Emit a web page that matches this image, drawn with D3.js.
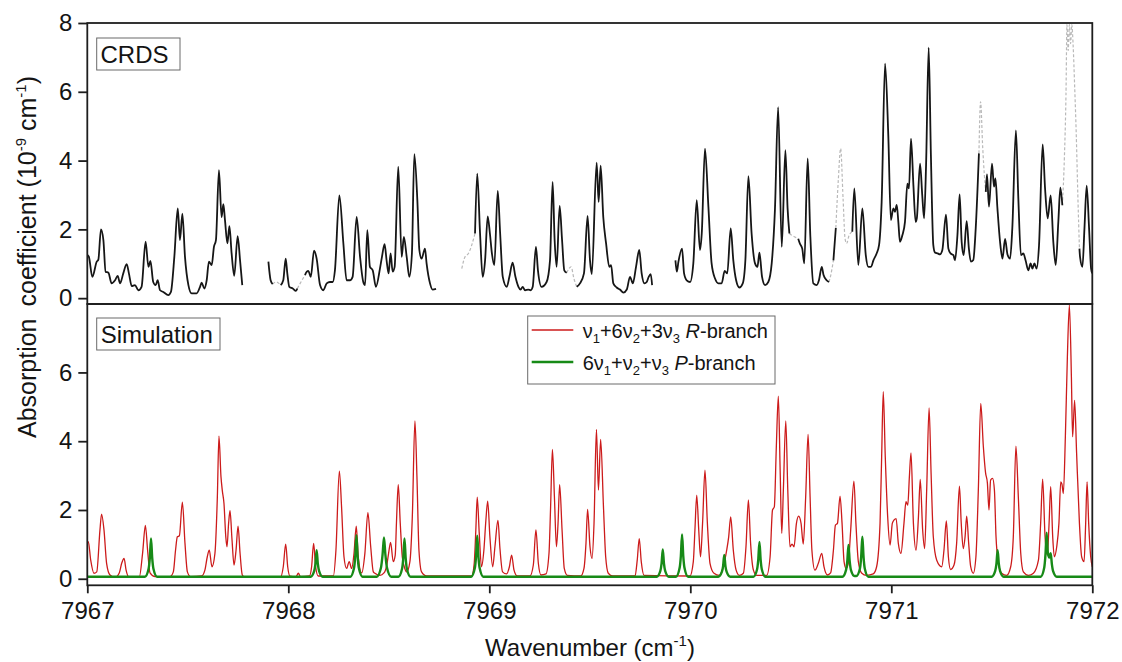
<!DOCTYPE html>
<html>
<head>
<meta charset="utf-8">
<script src="https://cdn.jsdelivr.net/npm/d3@7"></script>
<style>
  body { margin: 0; background: #fff; }
  svg { display: block; font-family: Arial, "Liberation Sans", sans-serif; }
</style>
</head>
<body>
<svg id="chart" width="1122" height="662"></svg>
<script>
// ---- Data: wavenumber (cm-1), absorption coefficient (1e-9 cm-1) ----

// Measured CRDS spectrum; null separates recorded stretches.
const crdsMeasured = [
  [7967.002,1.25],[7967.008,1.20],[7967.025,0.62],[7967.047,1.06],[7967.055,1.12],[7967.068,2.00],[7967.080,1.69],[7967.091,0.77],[7967.105,0.74],[7967.121,0.43],[7967.138,0.52],[7967.151,0.65],[7967.163,0.43],[7967.179,0.72],[7967.196,0.99],[7967.207,0.72],[7967.221,0.35],[7967.237,0.38],[7967.254,0.23],[7967.270,0.33],[7967.290,1.64],[7967.304,0.91],[7967.314,1.08],[7967.328,0.47],[7967.340,0.38],[7967.350,0.52],[7967.362,0.23],[7967.378,0.18],[7967.403,0.09],[7967.416,0.18],[7967.433,1.20],[7967.450,2.61],[7967.461,1.69],[7967.473,2.46],[7967.486,1.20],[7967.503,0.38],[7967.519,0.14],[7967.544,0.14],[7967.561,0.33],[7967.569,0.45],[7967.582,0.28],[7967.594,0.52],[7967.605,1.06],[7967.619,0.96],[7967.630,1.49],[7967.640,1.69],[7967.655,3.72],[7967.668,2.36],[7967.677,2.73],[7967.685,2.27],[7967.697,1.59],[7967.707,2.09],[7967.718,1.30],[7967.731,0.65],[7967.748,1.80],[7967.760,1.10],[7967.771,0.38],
  null,
  [7967.901,1.06],[7967.912,0.52],[7967.922,0.41],
  null,
  [7967.962,0.38],[7967.975,0.52],[7967.987,1.15],[7967.995,0.72],[7968.005,0.33],[7968.022,0.28],[7968.038,0.21],[7968.045,0.28],
  null,
  [7968.083,0.67],[7968.092,0.77],[7968.100,0.79],[7968.112,0.62],[7968.128,1.38],[7968.141,1.15],[7968.158,0.38],[7968.174,0.23],[7968.191,0.43],[7968.207,0.47],[7968.221,0.47],[7968.232,0.81],[7968.254,2.99],[7968.274,1.59],[7968.290,0.52],[7968.307,0.52],[7968.320,0.62],[7968.340,2.36],[7968.357,1.20],[7968.373,0.47],[7968.382,0.38],[7968.393,1.98],[7968.406,0.91],[7968.420,0.81],[7968.436,0.33],[7968.456,0.86],[7968.466,1.20],[7968.479,1.57],[7968.489,1.10],[7968.499,0.72],[7968.509,1.30],[7968.519,0.77],[7968.529,0.91],[7968.547,3.82],[7968.564,1.20],[7968.575,1.78],[7968.589,1.20],[7968.602,0.62],[7968.615,1.30],[7968.627,4.19],[7968.642,2.85],[7968.652,1.40],[7968.663,1.15],[7968.680,1.44],[7968.688,1.01],[7968.705,0.43],[7968.718,0.25],[7968.735,0.27],
  null,
  [7968.929,1.88],[7968.940,3.62],[7968.954,1.88],[7968.967,0.62],[7968.979,1.10],[7968.992,2.38],[7969.003,1.88],[7969.013,1.30],[7969.025,0.96],[7969.042,3.12],[7969.054,1.88],[7969.067,0.62],[7969.087,0.33],[7969.100,0.62],[7969.116,1.03],[7969.130,0.62],[7969.145,0.33],[7969.156,0.25],[7969.166,0.33],[7969.178,0.23],[7969.194,0.25],[7969.206,0.23],[7969.216,0.33],[7969.232,1.49],[7969.242,0.81],[7969.260,0.33],[7969.285,0.47],[7969.302,1.10],[7969.315,3.38],[7969.325,1.69],[7969.335,0.91],[7969.350,2.68],[7969.362,1.69],[7969.373,0.81],[7969.385,0.74],
  null,
  [7969.435,0.33],[7969.451,0.43],[7969.471,0.72],[7969.489,2.39],[7969.501,1.10],[7969.510,0.70],[7969.534,3.94],[7969.544,2.80],[7969.554,3.85],[7969.567,2.36],[7969.581,1.59],[7969.597,0.91],[7969.606,0.96],[7969.617,0.43],[7969.634,0.31],[7969.650,0.25],[7969.667,0.16],[7969.684,0.25],[7969.700,0.62],[7969.714,0.43],[7969.730,0.91],[7969.746,1.40],[7969.758,0.72],[7969.772,0.43],[7969.783,0.47],[7969.793,0.62],[7969.803,0.70],[7969.810,0.38],
  null,
  [7969.926,1.10],[7969.933,0.77],[7969.941,1.06],[7969.959,1.44],[7969.969,0.72],[7969.982,0.52],[7969.999,0.47],[7970.015,1.01],[7970.032,2.85],[7970.048,1.40],[7970.057,1.88],[7970.073,4.35],[7970.090,2.66],[7970.106,1.01],[7970.123,0.57],[7970.140,0.43],[7970.156,0.43],[7970.171,0.79],[7970.184,0.72],[7970.201,2.03],[7970.214,1.10],[7970.228,0.52],[7970.244,0.31],[7970.261,0.43],[7970.274,1.10],[7970.289,3.55],[7970.305,1.88],[7970.322,1.01],[7970.334,0.91],[7970.344,1.32],[7970.357,0.62],[7970.372,0.38],[7970.388,0.47],[7970.405,1.01],[7970.421,2.56],[7970.437,5.55],[7970.455,1.49],[7970.473,4.30],[7970.484,2.61],[7970.493,1.88],
  null,
  [7970.537,1.73],[7970.545,1.59],[7970.557,1.44],[7970.567,1.01],[7970.584,4.06],[7970.597,1.83],[7970.612,0.43],[7970.629,0.38],[7970.640,0.52],[7970.654,0.91],[7970.663,0.67],[7970.678,0.52],[7970.690,0.47],
  null,
  [7970.712,1.10],[7970.724,2.04],
  null,
  [7970.806,1.93],[7970.816,3.19],[7970.836,0.96],[7970.856,2.61],[7970.873,1.25],[7970.886,0.91],[7970.899,0.91],[7970.911,1.10],[7970.927,1.30],[7970.939,1.54],[7970.952,2.80],[7970.969,6.82],[7970.985,4.74],[7970.998,2.27],[7971.010,2.61],[7971.018,2.51],[7971.027,2.71],[7971.035,2.22],[7971.043,1.64],[7971.055,1.83],[7971.068,2.22],[7971.080,3.33],[7971.088,3.19],[7971.098,4.64],[7971.110,3.28],[7971.121,2.22],[7971.127,2.32],[7971.143,3.91],[7971.154,2.99],[7971.163,2.32],[7971.173,3.87],[7971.186,7.28],[7971.197,4.16],[7971.209,1.54],[7971.217,1.33],[7971.231,1.30],[7971.242,1.27],[7971.254,1.40],[7971.272,2.43],[7971.284,1.44],[7971.295,1.30],[7971.309,1.25],[7971.317,1.10],[7971.329,1.83],[7971.340,3.02],[7971.350,1.64],[7971.360,1.25],[7971.375,2.24],[7971.386,1.44],[7971.396,1.06],[7971.408,1.11],[7971.420,2.03],[7971.436,4.21],
  null,
  [7971.470,3.09],[7971.476,3.60],[7971.486,2.66],[7971.501,3.91],[7971.511,3.24],[7971.518,3.48],[7971.528,2.61],[7971.541,1.64],[7971.553,1.15],[7971.566,1.72],[7971.578,1.27],[7971.591,1.15],[7971.602,2.03],[7971.620,4.88],[7971.632,2.90],[7971.645,1.25],[7971.657,1.30],[7971.668,1.10],[7971.682,0.81],[7971.693,1.01],[7971.702,0.86],[7971.712,1.01],[7971.723,0.86],[7971.735,1.54],[7971.753,4.47],[7971.765,3.19],[7971.778,2.32],[7971.793,2.99],[7971.806,1.64],[7971.818,0.96],[7971.831,2.22],[7971.841,3.21],[7971.851,2.70],
  null,
  [7971.936,1.44],[7971.939,1.20],[7971.951,0.91],[7971.961,2.03],[7971.972,3.27],[7971.984,2.03],[7971.994,0.86],[7972.000,0.72]
];

// Masked CRDS points (cell/laser artefacts), drawn light and dashed.
const crdsMasked = [
  [7967.922,0.41],[7967.940,0.47],[7967.962,0.38],
  null,
  [7968.045,0.28],[7968.063,0.47],[7968.083,0.67],
  null,
  [7968.863,0.86],[7968.879,1.20],[7968.896,1.30],[7968.929,1.88],
  null,
  [7969.385,0.74],[7969.407,0.91],[7969.421,0.57],[7969.435,0.33],
  null,
  [7970.493,1.88],[7970.504,1.83],[7970.520,1.78],[7970.537,1.73],
  null,
  [7970.690,0.47],[7970.700,0.70],[7970.712,1.10],
  null,
  [7970.724,2.04],[7970.736,3.40],[7970.748,4.35],[7970.760,2.90],[7970.770,1.73],[7970.778,1.59],[7970.790,1.83],[7970.806,1.93],
  null,
  [7971.436,4.21],[7971.444,5.71],[7971.455,4.35],[7971.463,3.58],[7971.470,3.09],
  null,
  [7971.851,2.70],[7971.861,4.06],[7971.869,5.90],[7971.874,7.95],[7971.880,7.20],[7971.886,7.95],[7971.892,7.40],[7971.898,7.95],[7971.905,7.30],[7971.912,6.20],[7971.920,4.80],[7971.928,3.00],[7971.936,1.44]
];

// Simulated nu1+6nu2+3nu3 R-branch.
const simRBranch = [
  [7967.000,1.05],[7967.005,1.08],[7967.017,0.54],[7967.033,0.16],[7967.047,0.20],[7967.063,1.42],[7967.071,1.88],[7967.083,1.42],[7967.096,0.45],[7967.113,0.11],[7967.138,0.04],[7967.159,0.17],[7967.171,0.45],[7967.183,0.59],[7967.193,0.25],[7967.206,0.06],[7967.259,0.06],[7967.275,0.74],[7967.289,1.55],[7967.300,0.83],[7967.312,0.17],[7967.337,0.06],[7967.411,0.06],[7967.428,0.20],[7967.439,0.83],[7967.448,1.22],[7967.458,1.25],[7967.473,2.23],[7967.486,1.03],[7967.498,0.20],[7967.514,0.06],[7967.569,0.08],[7967.585,0.25],[7967.597,0.64],[7967.607,0.83],[7967.620,0.35],[7967.635,0.74],[7967.647,2.38],[7967.655,4.15],[7967.665,2.97],[7967.672,2.55],[7967.680,2.19],[7967.689,1.22],[7967.695,0.93],[7967.703,1.61],[7967.710,1.98],[7967.720,1.13],[7967.730,0.40],[7967.740,0.83],[7967.750,1.53],[7967.760,0.74],[7967.771,0.11],[7967.785,0.04],
  [7967.962,0.06],[7967.975,0.35],[7967.987,1.01],[7967.997,0.35],[7968.008,0.08],[7968.038,0.06],[7968.050,0.16],[7968.061,0.06],[7968.105,0.08],[7968.116,0.35],[7968.126,1.03],[7968.136,0.35],[7968.149,0.08],[7968.224,0.08],[7968.237,0.83],[7968.254,3.13],[7968.265,2.09],[7968.277,0.64],[7968.290,0.30],[7968.303,0.50],[7968.315,0.30],[7968.327,0.74],[7968.338,1.53],[7968.348,0.64],[7968.365,0.17],[7968.381,0.74],[7968.396,1.92],[7968.410,0.93],[7968.423,0.20],[7968.431,0.16],[7968.456,0.10],[7968.476,0.17],[7968.490,0.40],[7968.499,0.74],[7968.509,1.06],[7968.522,0.50],[7968.532,0.69],[7968.538,1.61],[7968.547,2.74],[7968.557,1.61],[7968.567,0.64],[7968.577,0.35],[7968.589,0.20],[7968.605,0.50],[7968.617,1.80],[7968.630,4.59],[7968.640,2.97],[7968.650,0.83],[7968.663,0.20],[7968.688,0.08],
  [7968.912,0.08],[7968.925,0.45],[7968.933,1.42],[7968.940,2.37],[7968.950,1.32],[7968.961,0.35],[7968.973,0.83],[7968.983,1.70],[7968.992,2.26],[7969.003,1.22],[7969.017,0.35],[7969.028,0.93],[7969.043,1.70],[7969.053,0.88],[7969.066,0.20],[7969.086,0.14],[7969.100,0.35],[7969.111,0.69],[7969.123,0.25],[7969.139,0.08],[7969.202,0.08],[7969.219,0.40],[7969.232,1.42],[7969.244,0.45],[7969.257,0.11],[7969.282,0.14],[7969.297,0.74],[7969.305,2.09],[7969.314,3.76],[7969.324,2.38],[7969.334,0.93],[7969.342,1.61],[7969.350,2.74],[7969.362,1.42],[7969.373,0.30],[7969.388,0.10],[7969.455,0.08],[7969.471,0.30],[7969.481,1.03],[7969.489,2.02],[7969.501,0.93],[7969.511,0.59],[7969.521,1.61],[7969.533,4.34],[7969.543,2.58],[7969.554,4.05],[7969.568,2.09],[7969.579,0.64],[7969.592,0.16],[7969.614,0.08],[7969.725,0.08],[7969.736,0.54],[7969.746,1.17],[7969.756,0.50],[7969.770,0.10],
  [7969.998,0.08],[7970.015,0.50],[7970.023,1.42],[7970.032,2.43],[7970.042,1.42],[7970.051,0.64],[7970.061,1.61],[7970.073,3.16],[7970.085,1.61],[7970.098,0.45],[7970.118,0.16],[7970.145,0.10],[7970.164,0.35],[7970.181,0.83],[7970.191,1.22],[7970.201,1.80],[7970.214,0.83],[7970.228,0.25],[7970.244,0.10],[7970.264,0.16],[7970.277,0.93],[7970.289,2.29],[7970.300,1.03],[7970.314,0.25],[7970.330,0.10],[7970.380,0.10],[7970.397,0.64],[7970.409,2.00],[7970.418,2.09],[7970.428,3.84],[7970.438,5.31],[7970.447,3.16],[7970.455,1.32],[7970.463,2.58],[7970.475,4.59],[7970.485,2.58],[7970.496,0.93],[7970.506,1.01],[7970.516,0.93],[7970.528,1.61],[7970.539,1.82],[7970.551,1.61],[7970.562,1.01],[7970.574,2.38],[7970.586,4.20],[7970.596,2.38],[7970.605,0.83],[7970.620,0.25],[7970.637,0.45],[7970.654,0.74],[7970.665,0.35],[7970.682,0.11],[7970.698,0.17],[7970.712,0.83],[7970.722,1.56],[7970.732,1.61],[7970.745,2.40],[7970.755,1.61],[7970.765,0.50],[7970.775,0.30],[7970.786,0.45],[7970.798,1.42],[7970.814,2.84],[7970.824,1.61],[7970.836,0.50],[7970.852,0.17],[7970.877,0.10],[7970.910,0.14],[7970.927,0.35],[7970.944,1.61],[7970.952,3.55],[7970.960,5.44],[7970.970,3.55],[7970.982,1.80],[7970.994,0.98],
  [7971.005,1.61],[7971.014,1.71],[7971.024,1.75],[7971.035,1.03],[7971.048,0.74],[7971.063,1.61],[7971.073,2.24],[7971.082,2.14],[7971.090,2.97],[7971.098,3.66],[7971.110,1.61],[7971.123,0.83],[7971.135,1.80],[7971.144,2.89],[7971.156,1.42],[7971.166,0.88],[7971.176,2.58],[7971.188,4.97],[7971.198,3.06],[7971.209,1.22],[7971.226,0.54],[7971.251,0.35],[7971.262,0.83],[7971.274,1.68],[7971.284,0.64],[7971.295,0.27],[7971.312,0.40],[7971.325,1.03],[7971.339,2.69],[7971.348,1.61],[7971.358,0.88],[7971.367,1.22],[7971.375,1.82],[7971.385,1.03],[7971.395,0.35],[7971.408,0.16],[7971.421,0.64],[7971.433,2.58],[7971.445,5.10],[7971.458,3.84],[7971.469,3.08],[7971.478,2.79],[7971.486,2.00],[7971.494,2.87],[7971.504,2.92],[7971.513,2.58],[7971.521,1.22],[7971.533,0.45],[7971.549,0.16],[7971.574,0.10],[7971.594,0.35],[7971.607,1.22],[7971.620,3.86],[7971.632,2.38],[7971.644,0.74],[7971.657,0.20],[7971.682,0.10],[7971.707,0.16],[7971.732,0.54],[7971.743,1.61],[7971.753,2.90],[7971.765,1.22],[7971.776,0.69],[7971.785,1.61],[7971.793,2.68],[7971.803,1.22],[7971.811,0.64],[7971.823,0.93],[7971.834,1.61],[7971.843,2.82],[7971.849,2.75],[7971.856,2.48],[7971.866,4.13],[7971.876,6.45],[7971.886,7.96],[7971.896,5.87],[7971.902,4.13],[7971.912,5.19],[7971.922,3.64],[7971.936,1.61],[7971.947,0.64],[7971.959,0.50],[7971.967,1.61],[7971.974,2.82],[7971.982,1.61],[7971.992,0.64],[7972.000,0.35]
];

// Simulated 6nu1+nu2+nu3 P-branch.
const simPBranch = [
  [7967.000,0.06],
  [7967.287,0.06],[7967.305,0.29],[7967.311,0.60],[7967.317,1.17],[7967.323,0.60],[7967.329,0.29],[7967.347,0.06],
  [7968.111,0.06],[7968.129,0.23],[7968.135,0.43],[7968.141,0.83],[7968.147,0.43],[7968.153,0.23],[7968.171,0.06],
  [7968.309,0.06],[7968.327,0.31],[7968.333,0.65],[7968.339,1.27],[7968.345,0.65],[7968.351,0.31],[7968.369,0.06],
  [7968.440,0.06],[7968.461,0.32],[7968.469,0.70],[7968.476,1.20],[7968.483,0.70],[7968.491,0.32],[7968.512,0.06],
  [7968.548,0.06],[7968.566,0.29],[7968.572,0.60],[7968.578,1.17],[7968.584,0.60],[7968.590,0.29],[7968.608,0.06],
  [7968.910,0.06],[7968.928,0.31],[7968.934,0.64],[7968.940,1.25],[7968.946,0.64],[7968.952,0.31],[7968.970,0.06],
  [7969.833,0.06],[7969.851,0.23],[7969.857,0.44],[7969.863,0.85],[7969.869,0.44],[7969.875,0.23],[7969.893,0.06],
  [7969.929,0.06],[7969.947,0.32],[7969.953,0.66],[7969.959,1.29],[7969.965,0.66],[7969.971,0.32],[7969.989,0.06],
  [7970.139,0.06],[7970.157,0.20],[7970.163,0.36],[7970.169,0.69],[7970.175,0.36],[7970.181,0.20],[7970.199,0.06],
  [7970.314,0.06],[7970.332,0.27],[7970.338,0.55],[7970.344,1.07],[7970.350,0.55],[7970.356,0.27],[7970.374,0.06],
  [7970.757,0.06],[7970.775,0.26],[7970.781,0.51],[7970.787,0.98],[7970.793,0.51],[7970.799,0.26],[7970.817,0.08],
  [7970.826,0.08],[7970.844,0.30],[7970.850,0.63],[7970.856,1.22],[7970.862,0.63],[7970.868,0.30],[7970.886,0.06],
  [7971.499,0.06],[7971.517,0.23],[7971.523,0.43],[7971.529,0.83],[7971.535,0.43],[7971.541,0.23],[7971.559,0.06],
  [7971.743,0.06],[7971.761,0.33],[7971.767,0.70],[7971.773,1.34],[7971.779,0.75],[7971.786,0.62],[7971.793,0.74],[7971.799,0.42],[7971.805,0.22],[7971.823,0.06],
  [7972.000,0.06]
];

// Axis ticks
const xTicks = [7967, 7968, 7969, 7970, 7971, 7972];
const yTicksTop = [0, 2, 4, 6, 8];
const yTicksBottom = [0, 2, 4, 6];

// Legend entries
const legendItems = [
  { parts: [["ν",""],["1","sub"],["+6ν",""],["2","sub"],["+3ν",""],["3","sub"],[" ",""],["R","it"],["-branch",""]], color: "#cc1b1b", width: 1.3 },
  { parts: [["6ν",""],["1","sub"],["+ν",""],["2","sub"],["+ν",""],["3","sub"],[" ",""],["P","it"],["-branch",""]], color: "#178a17", width: 2.4 }
];

// ---- Layout ----
const svg = d3.select("#chart");
const left = 87.3, right = 1092.3;
const topY0 = 23, midY = 304, botY1 = 585.3;

const x = d3.scaleLinear().domain([7967, 7972]).range([left, right]);
const yTop = d3.scaleLinear().domain([-0.17, 8]).range([midY, topY0]);
const yBot = d3.scaleLinear().domain([-0.19, 7.99]).range([botY1, midY]);

svg.append("rect").attr("width", 1122).attr("height", 662).attr("fill", "#fff");

const defs = svg.append("defs");
defs.append("clipPath").attr("id", "clipTop").append("rect")
  .attr("x", left).attr("y", topY0).attr("width", right - left).attr("height", midY - topY0);
defs.append("clipPath").attr("id", "clipBot").append("rect")
  .attr("x", left).attr("y", midY).attr("width", right - left).attr("height", botY1 - midY);

const curve = d3.curveMonotoneX;
const lineTop = d3.line().defined(d => d !== null).x(d => x(d[0])).y(d => yTop(d[1])).curve(curve);
const lineBot = d3.line().x(d => x(d[0])).y(d => yBot(d[1])).curve(curve);

// Top panel: CRDS
const gTop = svg.append("g").attr("clip-path", "url(#clipTop)");
gTop.append("path").datum(crdsMasked).attr("d", lineTop)
  .attr("fill", "none").attr("stroke", "#b9b9b9").attr("stroke-width", 1.2)
  .attr("stroke-dasharray", "3,2");
gTop.append("path").datum(crdsMeasured).attr("d", lineTop)
  .attr("fill", "none").attr("stroke", "#161616").attr("stroke-width", 1.8)
  .attr("stroke-linejoin", "round");

// Bottom panel: simulation
const gBot = svg.append("g").attr("clip-path", "url(#clipBot)");
gBot.append("path").datum(simRBranch).attr("d", lineBot)
  .attr("fill", "none").attr("stroke", legendItems[0].color).attr("stroke-width", legendItems[0].width)
  .attr("stroke-linejoin", "round");
gBot.append("path").datum(simPBranch).attr("d", lineBot)
  .attr("fill", "none").attr("stroke", legendItems[1].color).attr("stroke-width", legendItems[1].width)
  .attr("stroke-linejoin", "round");

// Frames
const frameColor = "#1e1e1e";
svg.append("rect").attr("x", left).attr("y", topY0).attr("width", right - left).attr("height", midY - topY0)
  .attr("fill", "none").attr("stroke", frameColor).attr("stroke-width", 1.8);
svg.append("rect").attr("x", left).attr("y", midY).attr("width", right - left).attr("height", botY1 - midY)
  .attr("fill", "none").attr("stroke", frameColor).attr("stroke-width", 1.8);

// Axes
function styleAxis(g) {
  g.select(".domain").remove();
  g.selectAll(".tick line").attr("stroke", frameColor).attr("stroke-width", 1.8);
  g.selectAll(".tick text").attr("fill", "#141414").attr("font-size", 24)
    .attr("font-family", "Arial, 'Liberation Sans', sans-serif");
}
svg.append("g").attr("transform", `translate(${left},0)`)
  .call(d3.axisLeft(yTop).tickValues(yTicksTop).tickFormat(d3.format("d")).tickSize(9).tickPadding(6))
  .call(styleAxis);
svg.append("g").attr("transform", `translate(${left},0)`)
  .call(d3.axisLeft(yBot).tickValues(yTicksBottom).tickFormat(d3.format("d")).tickSize(9).tickPadding(6))
  .call(styleAxis);
svg.append("g").attr("transform", `translate(0,${botY1})`)
  .call(d3.axisBottom(x).tickValues(xTicks).tickFormat(d3.format("d")).tickSize(8).tickPadding(9))
  .call(styleAxis);

// Panel tags
function tag(label, x0, y0, w, h, tx, ty) {
  svg.append("rect").attr("x", x0).attr("y", y0).attr("width", w).attr("height", h)
    .attr("fill", "#fff").attr("stroke", "#6a6a6a").attr("stroke-width", 1);
  svg.append("text").attr("x", tx).attr("y", ty).attr("font-size", 24).attr("fill", "#141414").text(label);
}
tag("CRDS", 96.7, 38, 83.3, 32, 100.5, 63);
tag("Simulation", 96.7, 318, 123.3, 32, 100.7, 342.5);

// Axis titles
const xTitle = svg.append("text").attr("x", 590).attr("y", 656).attr("text-anchor", "middle")
  .attr("font-size", 24).attr("fill", "#141414");
xTitle.append("tspan").text("Wavenumber (cm");
xTitle.append("tspan").attr("font-size", 15).attr("dy", -10).text("-1");
xTitle.append("tspan").attr("dy", 10).text(")");

const yTitle = svg.append("text").attr("transform", "translate(36,257) rotate(-90)")
  .attr("text-anchor", "middle").attr("font-size", 25).attr("fill", "#141414");
yTitle.append("tspan").text("Absorption");
yTitle.append("tspan").attr("dx", 12).text("coefficient");
yTitle.append("tspan").attr("dx", 7).text("(10");
yTitle.append("tspan").attr("font-size", 15).attr("dy", -10).text("-9");
yTitle.append("tspan").attr("dy", 10).text(" cm");
yTitle.append("tspan").attr("font-size", 15).attr("dy", -10).text("-1");
yTitle.append("tspan").attr("dy", 10).text(")");

// Legend
const lg = svg.append("g");
lg.append("rect").attr("x", 527.7).attr("y", 316).attr("width", 247.3).attr("height", 68)
  .attr("fill", "#fff").attr("stroke", "#6a6a6a").attr("stroke-width", 1);
legendItems.forEach((item, i) => {
  const cy = 330 + i * 32;
  lg.append("line").attr("x1", 531.7).attr("x2", 573.3).attr("y1", cy).attr("y2", cy)
    .attr("stroke", item.color).attr("stroke-width", item.width);
  const t = lg.append("text").attr("x", 582.7).attr("y", cy + 7.5).attr("font-size", 20).attr("fill", "#141414");
  let shifted = false;
  item.parts.forEach(([s, kind]) => {
    const sp = t.append("tspan").text(s);
    if (kind === "sub") { sp.attr("font-size", 13).attr("dy", 5); shifted = true; }
    else {
      if (shifted) { sp.attr("dy", -5); shifted = false; }
      if (kind === "it") sp.attr("font-style", "italic");
    }
  });
});
</script>
</body>
</html>
